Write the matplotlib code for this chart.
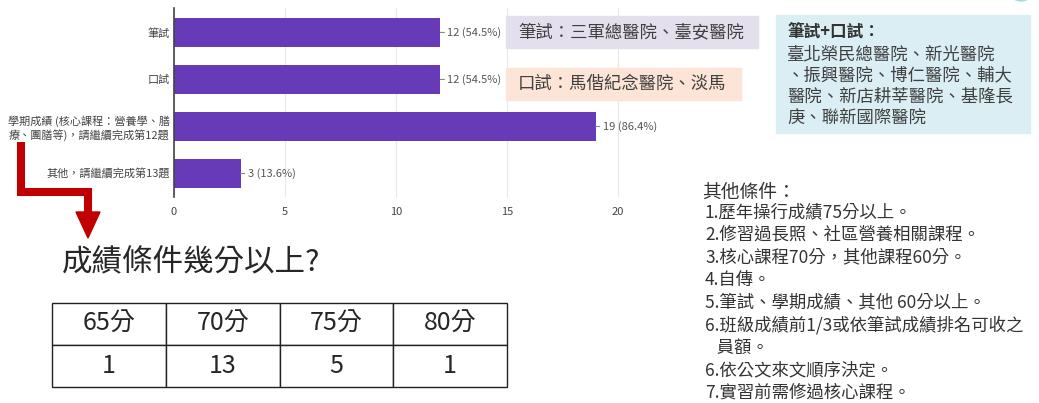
import matplotlib.pyplot as plt
from matplotlib.patches import Rectangle, Polygon, Circle

plt.rcParams['font.family'] = ['Noto Sans CJK TC', 'DejaVu Sans']

# survey answers (Google Forms bar chart)
categories = ['筆試', '口試',
              '學期成績 (核心課程：營養學、膳\n療、團膳等)，請繼續完成第12題',
              '其他，請繼續完成第13題']
counts = [12, 12, 19, 3]
respondents = 22

# score threshold table
score_labels = ['65分', '70分', '75分', '80分']
score_counts = [1, 13, 5, 1]

written_note = '筆試：三軍總醫院、臺安醫院'
oral_note = '口試：馬偕紀念醫院、淡馬'
both_title = '筆試+口試：'
both_lines = ['臺北榮民總醫院、新光醫院', '、振興醫院、博仁醫院、輔大',
              '醫院、新店耕莘醫院、基隆長', '庚、聯新國際醫院']
other_title = '其他條件：'
other_lines = ['1.歷年操行成績75分以上。', '2.修習過長照、社區營養相關課程。',
               '3.核心課程70分，其他課程60分。', '4.自傳。',
               '5.筆試、學期成績、其他 60分以上。',
               '6.班級成績前1/3或依筆試成績排名可收之', '   員額。',
               '6.依公文來文順序決定。', '7.實習前需修過核心課程。']
table_title = '成績條件幾分以上?'

W, H = 1039, 403
fig = plt.figure(figsize=(W / 100, H / 100), dpi=100)

# bar chart
ax = fig.add_axes([174 / W, 1 - 197 / H, 446 / W, 189 / H])
ypos = range(len(categories))
ax.barh(ypos, counts, height=0.62, color='#673ab7')
ax.set_ylim(3.5, -0.52)
ax.set_xlim(0, 20.1)
ax.set_xticks([0, 5, 10, 15, 20])
ax.set_yticks(list(ypos))
ax.set_yticklabels(categories)
ax.grid(axis='x', color='#e8e8e8', lw=0.8)
ax.set_axisbelow(True)
for s in ['top', 'right', 'bottom']:
    ax.spines[s].set_visible(False)
ax.spines['left'].set_color('#444444')
ax.spines['left'].set_linewidth(1.2)
ax.tick_params(length=0, labelsize=8, labelcolor='#444444')
ax.tick_params(axis='x', pad=7)
ax.tick_params(axis='y', pad=3)
for i, v in enumerate(counts):
    ax.annotate('{0} ({1:.1f}%)'.format(v, v / respondents * 100), xy=(v, i),
                xytext=(5, 0), textcoords='offset points', va='center',
                fontsize=8, color='#555555',
                arrowprops=dict(arrowstyle='-', color='#888888', lw=0.8,
                                shrinkA=0, shrinkB=0))

# overlay in pixel coordinates for the slide decorations
ov = fig.add_axes([0, 0, 1, 1], zorder=5)
ov.set_xlim(0, W)
ov.set_ylim(H, 0)
ov.axis('off')

ov.add_patch(Rectangle((506, 16), 252, 32, color='#e4dfec'))
ov.text(518, 32, written_note, va='center', fontsize=12.5, color='#404040')
ov.add_patch(Rectangle((506, 68), 235, 32, color='#fce4d6'))
ov.text(518, 84, oral_note, va='center', fontsize=12.5, color='#404040')

ov.add_patch(Rectangle((776, 15), 254, 118, color='#daeef3'))
ov.text(787, 32, both_title, va='center', fontsize=12, color='#333333', fontweight='bold')
for k, line in enumerate(both_lines):
    ov.text(787, 54 + k * 21.5, line, va='center', fontsize=12.5, color='#404040')

ov.add_patch(Circle((1021, -12), 13, color='#9fe0d8'))

ov.text(702, 192, other_title, va='center', fontsize=13.5, color='#333333')
for k, line in enumerate(other_lines):
    ov.text(705, 212 + k * 22.6, line, va='center', fontsize=12.5, color='#333333')

# red arrow
ov.plot([21, 21, 88, 88], [142, 192, 192, 214], color='#c00000', lw=5.8,
        solid_joinstyle='miter', solid_capstyle='butt')
ov.add_patch(Polygon([(76, 212), (100, 212), (88, 238)], color='#c00000'))

ov.text(62, 263, table_title, va='center', fontsize=22, color='#262626')

# table
tax = fig.add_axes([52 / W, 1 - 387 / H, 455 / W, 84 / H])
tax.axis('off')
tbl = tax.table(cellText=[score_labels, [str(c) for c in score_counts]],
                bbox=[0, 0, 1, 1], cellLoc='center')
tbl.auto_set_font_size(False)
tbl.set_fontsize(18)
for cell in tbl.get_celld().values():
    cell.set_edgecolor('#222222')
    cell.set_linewidth(1.0)
    cell.get_text().set_color('#262626')

fig.savefig('out.png', dpi=100)
